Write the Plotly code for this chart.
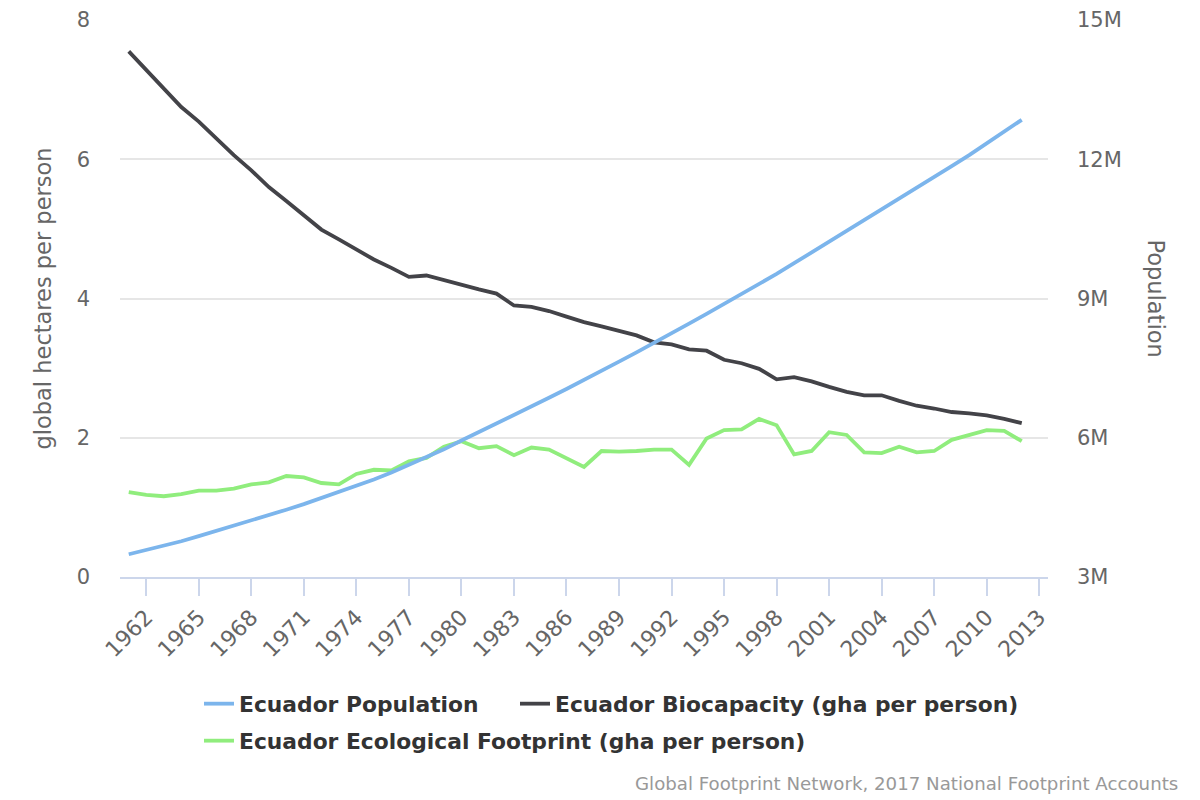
import plotly.graph_objects as go

years = list(range(1961, 2013))

population = [
    3.49, 3.58, 3.67, 3.77, 3.88, 3.99, 4.10, 4.21, 4.33, 4.45,
    4.57, 4.70, 4.83, 4.96, 5.10, 5.25, 5.41, 5.57, 5.75, 5.94,
    6.12, 6.30, 6.48, 6.67, 6.86, 7.05, 7.24, 7.44, 7.64, 7.84,
    8.04, 8.25, 8.46, 8.67, 8.88, 9.09, 9.31, 9.53, 9.76, 9.99,
    10.22, 10.46, 10.70, 10.93, 11.16, 11.39, 11.62, 11.85, 12.09, 12.34,
    12.59, 12.85,
]  # millions

biocapacity = [
    7.55, 7.28, 7.01, 6.75, 6.54, 6.30, 6.06, 5.84, 5.60, 5.40,
    5.19, 4.99, 4.85, 4.70, 4.56, 4.44, 4.31, 4.33, 4.26, 4.20,
    4.13, 4.07, 3.90, 3.88, 3.82, 3.74, 3.66, 3.60, 3.53, 3.47,
    3.37, 3.34, 3.27, 3.25, 3.12, 3.07, 2.99, 2.84, 2.87, 2.81,
    2.73, 2.66, 2.61, 2.61, 2.53, 2.46, 2.42, 2.37, 2.35, 2.32,
    2.27, 2.21,
]

footprint = [
    1.22, 1.18, 1.16, 1.19, 1.24, 1.24, 1.27, 1.33, 1.36, 1.45,
    1.43, 1.35, 1.33, 1.48, 1.54, 1.53, 1.66, 1.71, 1.87, 1.95,
    1.85, 1.88, 1.75, 1.86, 1.83, 1.71, 1.58, 1.81, 1.80, 1.81,
    1.83, 1.83, 1.61, 1.99, 2.11, 2.12, 2.27, 2.18, 1.76, 1.81,
    2.08, 2.04, 1.79, 1.78, 1.87, 1.79, 1.81, 1.97, 2.04, 2.11,
    2.10, 1.95,
]

x_ticks = list(range(1962, 2014, 3))
left_ticks = [0, 2, 4, 6, 8]
right_ticks = [3e6, 6e6, 9e6, 12e6, 15e6]
right_tick_text = ["3M", "6M", "9M", "12M", "15M"]

FONT = "DejaVu Sans"
GRAY = "#666666"

fig = go.Figure()
fig.add_trace(go.Scatter(
    x=years, y=[p * 1e6 for p in population], yaxis="y2", mode="lines",
    name="Ecuador Population", line=dict(color="#7cb5ec", width=3.8),
    legend="legend", showlegend=True,
))
fig.add_trace(go.Scatter(
    x=years, y=biocapacity, mode="lines",
    name="Ecuador Biocapacity (gha per person)", line=dict(color="#434348", width=3.8),
    legend="legend2", showlegend=True,
))
fig.add_trace(go.Scatter(
    x=years, y=footprint, mode="lines",
    name="Ecuador Ecological Footprint (gha per person)", line=dict(color="#90ed7d", width=3.8),
    legend="legend3", showlegend=True,
))

legend_font = dict(family=FONT, size=21.8, color="#333333", weight="bold")


def leg(xpx, ypx):
    return dict(
        orientation="h", xref="container", yref="container",
        x=xpx / 1200, xanchor="left", y=1 - ypx / 800, yanchor="middle",
        font=legend_font, bgcolor="rgba(0,0,0,0)", visible=True,
    )


L, R, T, B = 112, 160, 12, 231
PW = 1200 - L - R
PH = 800 - T - B

fig.update_layout(
    width=1200, height=800, showlegend=True,
    paper_bgcolor="white", plot_bgcolor="white",
    margin=dict(l=L, r=R, t=T, b=B, autoexpand=False),
    font=dict(family=FONT, color=GRAY),
    xaxis=dict(
        range=[1960.5, 2013.5], tickvals=x_ticks, tickangle=-45,
        showgrid=False, zeroline=False, automargin=False,
        showline=True, linecolor="#ccd6eb", linewidth=1.5,
        ticks="outside", ticklen=17, tickcolor="#ccd6eb", tickwidth=1.5,
        tickfont=dict(family=FONT, size=22, color=GRAY),
    ),
    yaxis=dict(
        range=[0, 8], tickvals=left_ticks, automargin=False,
        showgrid=True, gridcolor="#e6e6e6", gridwidth=1.5, zeroline=False,
        showline=False, ticks="", ticklabelstandoff=29,
        tickfont=dict(family=FONT, size=21, color=GRAY),
    ),
    yaxis2=dict(
        range=[3e6, 15e6], tickvals=right_ticks, ticktext=right_tick_text,
        overlaying="y", side="right", showgrid=False, zeroline=False,
        automargin=False,
        showline=False, ticks="", ticklabelstandoff=28,
        tickfont=dict(family=FONT, size=21, color=GRAY),
    ),
    legend=leg(191, 696),
    legend2=leg(507, 696),
    legend3=leg(191, 733),
    annotations=[
        dict(text="global hectares per person", xref="paper", yref="paper",
             x=0, y=0.5, xshift=-78, textangle=-90, showarrow=False,
             xanchor="center", yanchor="middle",
             font=dict(family=FONT, size=22.5, color=GRAY)),
        dict(text="Population", xref="paper", yref="paper",
             x=1, y=0.5, xshift=108, textangle=90, showarrow=False,
             xanchor="center", yanchor="middle",
             font=dict(family=FONT, size=22.5, color=GRAY)),
        dict(text="Global Footprint Network, 2017 National Footprint Accounts",
             xref="paper", yref="paper", x=(1172 - L) / PW, y=(800 - B - 775) / PH,
             showarrow=False, xanchor="right", yanchor="middle",
             font=dict(family=FONT, size=18.2, color="#999999")),
    ],
)

fig.write_html("out.html")
